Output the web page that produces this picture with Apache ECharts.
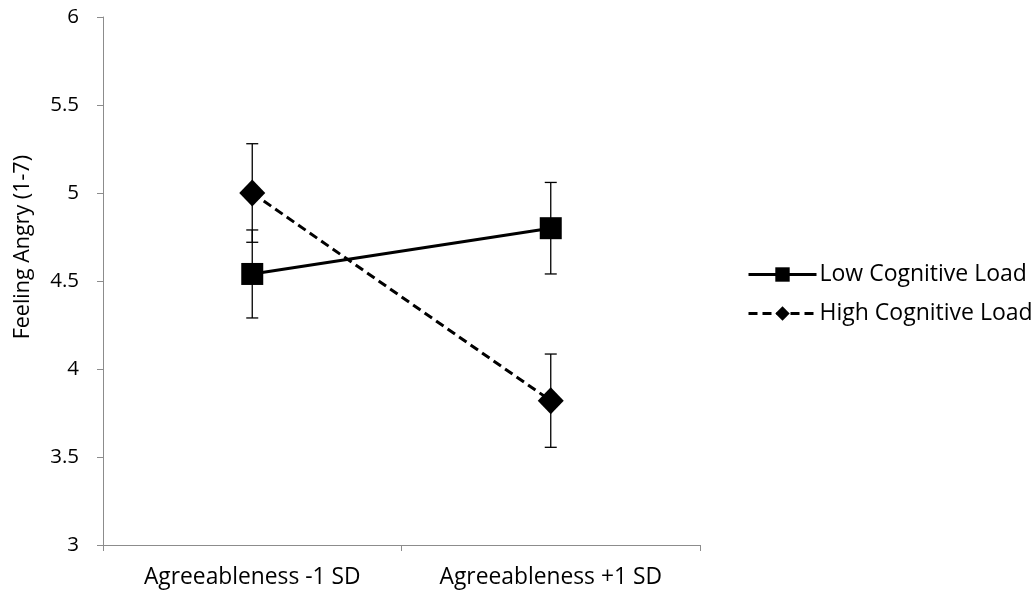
<!DOCTYPE html>
<html>
<head>
<meta charset="utf-8">
<script src="https://cdn.jsdelivr.net/npm/echarts@6/dist/echarts.min.js"></script>
<style>html,body{margin:0;padding:0;background:#fff}#c{width:1036px;height:594px}</style>
</head>
<body>
<div id="c"></div>
<script>
const categories = ['Agreeableness -1 SD', 'Agreeableness +1 SD'];
const lowLoad = [4.54, 4.80];
const lowErr = [0.25, 0.26];
const highLoad = [5.00, 3.82];
const highErr = [0.28, 0.265];
const yTicks = [3, 3.5, 4, 4.5, 5, 5.5, 6];

const FONT = 'Open Sans';
const chart = echarts.init(document.getElementById('c'));

function errData(vals, errs) {
  return vals.map((v, i) => [i, v - errs[i], v + errs[i]]);
}
function errRender(params, api) {
  const x = api.value(0);
  const lo = api.coord([x, api.value(1)]);
  const hi = api.coord([x, api.value(2)]);
  const cw = 6;
  const style = { stroke: '#000', lineWidth: 1.3 };
  return {
    type: 'group',
    children: [
      { type: 'line', shape: { x1: lo[0], y1: lo[1], x2: hi[0], y2: hi[1] }, style },
      { type: 'line', shape: { x1: lo[0] - cw, y1: lo[1], x2: lo[0] + cw, y2: lo[1] }, style },
      { type: 'line', shape: { x1: hi[0] - cw, y1: hi[1], x2: hi[0] + cw, y2: hi[1] }, style }
    ]
  };
}

chart.setOption({
  animation: false,
  grid: { left: 103, right: 336, top: 17, bottom: 49 },
  legend: {
    orient: 'vertical',
    left: 742, top: 258,
    itemWidth: 68, itemHeight: 18, itemGap: 16,
    data: ['Low Cognitive Load', 'High Cognitive Load'],
    lineStyle: { width: 3 },
    textStyle: { fontFamily: FONT, fontSize: 23, color: '#000', padding: [0, 0, 0, -2] }
  },
  xAxis: {
    type: 'category',
    data: categories,
    boundaryGap: true,
    axisLine: { lineStyle: { color: '#8c8c8c', width: 1 } },
    axisTick: { show: true, length: 6, alignWithLabel: false, lineStyle: { color: '#8c8c8c' } },
    axisLabel: { fontFamily: FONT, fontSize: 22.8, color: '#000', margin: 21 }
  },
  yAxis: {
    type: 'value',
    min: yTicks[0], max: yTicks[yTicks.length - 1], interval: 0.5,
    axisLine: { show: true, lineStyle: { color: '#8c8c8c', width: 1 } },
    axisTick: { show: true, length: 6, lineStyle: { color: '#8c8c8c' } },
    splitLine: { show: false },
    axisLabel: { fontFamily: FONT, fontSize: 20.5, color: '#000', margin: 24 }
  },
  graphic: [{
    type: 'text', left: 12, top: 155, rotation: Math.PI / 2,
    style: { text: 'Feeling Angry (1-7)', fontFamily: FONT, fontSize: 21.5, fill: '#000' }
  }],
  series: [
    { name: 'errLow', type: 'custom', renderItem: errRender, data: errData(lowLoad, lowErr), z: 1, silent: true },
    { name: 'errHigh', type: 'custom', renderItem: errRender, data: errData(highLoad, highErr), z: 1, silent: true },
    {
      name: 'Low Cognitive Load', type: 'line', data: lowLoad, z: 3,
      symbol: 'rect', symbolSize: 22,
      lineStyle: { color: '#000', width: 3 },
      itemStyle: { color: '#000' }
    },
    {
      name: 'High Cognitive Load', type: 'line', data: highLoad, z: 3,
      symbol: 'diamond', symbolSize: [26, 27],
      lineStyle: { color: '#000', width: 3, type: [9, 5] },
      itemStyle: { color: '#000' }
    }
  ]
});
</script>
</body>
</html>
